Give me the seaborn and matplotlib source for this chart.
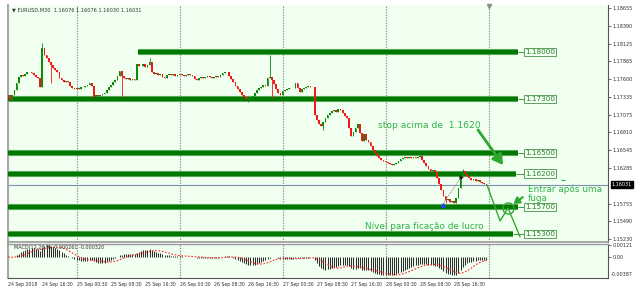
import numpy as np
import pandas as pd
import matplotlib
matplotlib.use("Agg")
import matplotlib.pyplot as plt
import seaborn as sns
from matplotlib.transforms import blended_transform_factory

sns.set_style("white")
plt.rcParams['font.family'] = ['DejaVu Sans']

# ---------------- data ----------------
symbol_header = "\u25BC EURUSD,M30  1.16076 1.16076 1.16030 1.16031"
first_open = 1.17335
closes = [
    1.17365, 1.17291, 1.17365, 1.17439, 1.17543, 1.17632, 1.17662, 1.17647, 1.17677, 1.17706,
    1.17706, 1.17691, 1.17662, 1.17632, 1.17617, 1.17484, 1.18062, 1.17958, 1.17914, 1.17855,
    1.17810, 1.17766, 1.17736, 1.17706, 1.17617, 1.17588, 1.17558, 1.17573, 1.17558, 1.17499,
    1.17469, 1.17454, 1.17469, 1.17454, 1.17484, 1.17484, 1.17499, 1.17514, 1.17543, 1.17499,
    1.17335, 1.17365, 1.17350, 1.17365, 1.17380, 1.17395, 1.17439, 1.17484, 1.17514, 1.17558,
    1.17588, 1.17647, 1.17721, 1.17647, 1.17617, 1.17602, 1.17617, 1.17588, 1.17602, 1.17588,
    1.17825, 1.17795, 1.17795, 1.17825, 1.17780, 1.17810, 1.17855, 1.17706, 1.17677, 1.17691,
    1.17662, 1.17677, 1.17632, 1.17617, 1.17662, 1.17677, 1.17662, 1.17677, 1.17647, 1.17662,
    1.17677, 1.17662, 1.17647, 1.17662, 1.17677, 1.17662, 1.17647, 1.17602, 1.17588, 1.17617,
    1.17632, 1.17617, 1.17632, 1.17647, 1.17632, 1.17617, 1.17632, 1.17647, 1.17632, 1.17662,
    1.17691, 1.17706, 1.17706, 1.17647, 1.17602, 1.17558, 1.17499, 1.17454, 1.17410, 1.17365,
    1.17335, 1.17306, 1.17321, 1.17335, 1.17350, 1.17395, 1.17439, 1.17469, 1.17484, 1.17514,
    1.17499, 1.17617, 1.17632, 1.17588, 1.17528, 1.17454, 1.17395, 1.17365, 1.17424, 1.17439,
    1.17454, 1.17469, 1.17469, 1.17469, 1.17543, 1.17469, 1.17410, 1.17454, 1.17469, 1.17484,
    1.17499, 1.17484, 1.17484, 1.17069, 1.16994, 1.16935, 1.16905, 1.16965, 1.17024, 1.17069,
    1.17098, 1.17128, 1.17143, 1.17113, 1.17158, 1.17143, 1.17098, 1.17054, 1.17024, 1.16876,
    1.16757, 1.16816, 1.16876, 1.16935, 1.16802, 1.16683, 1.16787, 1.16698, 1.16668, 1.16609,
    1.16550, 1.16505, 1.16461, 1.16431, 1.16401, 1.16387, 1.16372, 1.16357, 1.16342, 1.16327,
    1.16342, 1.16357, 1.16387, 1.16416, 1.16431, 1.16446, 1.16431, 1.16446, 1.16431, 1.16446,
    1.16431, 1.16446, 1.16461, 1.16401, 1.16357, 1.16312, 1.16268, 1.16238, 1.16253, 1.16223,
    1.16134, 1.16046, 1.15956, 1.15867, 1.15808, 1.15823, 1.15779, 1.15793, 1.15764, 1.15838,
    1.15986, 1.16164, 1.16238, 1.16194, 1.16164, 1.16134, 1.16105, 1.16120, 1.16090, 1.16105,
    1.16075, 1.16060, 1.16046, 1.16031,
]
spike_high = {16: 1.18136, 66: 1.17914, 122: 1.17958, 212: 1.16268}
spike_low = {20: 1.17543, 53: 1.17335, 112: 1.17261, 123: 1.17321, 147: 1.16846, 204: 1.15764}

levels = [1.18000, 1.17300, 1.16500, 1.16200, 1.15700, 1.15300]
level_labels = ["1.18000", "1.17300", "1.16500", "1.16200", "1.15700", "1.15300"]

price_ticks = [1.18655, 1.18390, 1.18125, 1.17865, 1.17600, 1.17335, 1.17075,
               1.16810, 1.16545, 1.16285, 1.15755, 1.15490, 1.15230]
last_price = 1.16031
time_labels = ["24 Sep 2018", "24 Sep 16:30", "25 Sep 00:30", "25 Sep 08:30",
               "25 Sep 16:30", "26 Sep 00:30", "26 Sep 08:30", "26 Sep 16:30",
               "27 Sep 00:30", "27 Sep 08:30", "27 Sep 16:30", "28 Sep 00:30",
               "28 Sep 08:30", "28 Sep 16:30"]
macd_label = "MACD(12,26,9) -0.000261 -0.000320"
macd_ticks = [0.00121, 0.0]
macd_ticklabels = ["0.00121", "0.00"]
macd_scale_min_label = "-0.00387"

# zig-zag projection drawn by the author (bar index, price)
zig_bars = [223.3, 229.4, 233.1, 238.7]
zig_prices = [1.16031, 1.15497, 1.15690, 1.15260]

# ---------------- derived ----------------
n = len(closes)
bars = np.arange(n)
opens = [first_open] + closes[:-1]
df = pd.DataFrame({"bar": bars, "open": opens, "close": closes})
df["high"] = [spike_high.get(i, max(o, c)) for i, o, c in zip(bars, df.open, df.close)]
df["low"] = [spike_low.get(i, min(o, c)) for i, o, c in zip(bars, df.open, df.close)]
df["bull"] = df.close >= df.open

ema12 = df.close.ewm(span=12, adjust=False).mean()
ema26 = df.close.ewm(span=26, adjust=False).mean()
df["macd"] = ema12 - ema26
df["signal"] = df.macd.rolling(9, min_periods=1).mean()

# ---------------- figure ----------------
W, H = 642, 303
fig = plt.figure(figsize=(W / 100, H / 100), dpi=100, facecolor="white")
BG = "#f0fff0"
L, R = 8 / W, 608 / W
ax = fig.add_axes([L, 1 - 242 / H, R - L, (242 - 5) / H], facecolor=BG)
axm = fig.add_axes([L, 1 - 278 / H, R - L, (278 - 244) / H], facecolor=BG)

XMAX = 279.7
for a in (ax, axm):
    a.set_xlim(0, XMAX)
ax.set_ylim(1.15185, 1.18700)
axm.set_ylim(-0.0022, 0.00135)

# vertical day separators
for a in (ax, axm):
    for xb in [32, 80, 128, 176, 224]:
        a.axvline(xb, color="#8a8a8a", lw=0.8, ls=(0, (1.2, 1.2)), zorder=1)

# current price line
ax.axhline(last_price, color="#7f8fb0", lw=0.8, zorder=2)

# level lines
level_x0 = [60.6, 0, 0, 0, 0, 0]
level_x1 = [237.8, 237.8, 237.8, 236.8, 237.8, 235.5]
box_x = 240.6
for lv, lab, x0, x1 in zip(levels, level_labels, level_x0, level_x1):
    ax.hlines(lv, x0, x1, color="#6fb56f", lw=4.4, zorder=3)
    ax.hlines(lv, x0, x1, color="#007800", lw=3.2, zorder=3)
    ax.hlines(lv, x1, box_x, color="#3a9a3a", lw=0.7, zorder=3)
    ax.text(box_x + 0.6, lv, lab, fontsize=5.2, color="#2f7f2f", va="center", ha="left",
            zorder=6,
            bbox=dict(boxstyle="square,pad=0.15", fc=BG, ec="#5f9f5f", lw=0.7))
ax.hlines(1.16105, 257.8, 259.6, color="#33b24a", lw=0.8, zorder=6)

# candles
col = np.where(df.bull, "#0b8a0b", "#f01818")
ax.vlines(df.bar, df.low, df.high, colors=col, lw=0.6, zorder=4)
body_lo = np.minimum(df.open, df.close)
body_h = np.maximum(np.abs(df.close - df.open), 0.00005)
ax.bar(df.bar, body_h, bottom=body_lo, width=0.8, color=col, lw=0, zorder=4)

# trade history dotted line
ax.plot([202.8, 211.2], [1.15749, 1.16149], color="#808080", lw=0.7, ls=(0, (1, 1)), zorder=5)
ax.plot([202.8], [1.15740], marker="^", color="#2040ff", ms=2.5, zorder=6)
ax.plot([211.2], [1.16149], marker=">", color="#202020", ms=2, zorder=6)

# shift marker
ax.plot([224], [1.18690], marker="v", color="#909090", ms=3, zorder=6, clip_on=False)

# annotations
TXT = "#33b24a"
ax.text(172.5, 1.16920, "stop acima de  1.1620", fontsize=6.6, color=TXT, va="center", ha="left", zorder=7)
ax.annotate("", xy=(230.8, 1.16327), xytext=(219.1, 1.16846),
            arrowprops=dict(arrowstyle="-|>,head_width=0.35,head_length=0.6", color="#2ea82e", lw=2.0,
                            shrinkA=0, shrinkB=0),
            zorder=7)
ax.text(242.4, 1.15900, "Entrar após uma\nfuga", fontsize=6.4, color=TXT, va="center", ha="left",
        linespacing=0.95, zorder=7)
ax.annotate("", xy=(235.6, 1.15750), xytext=(240.0, 1.15850),
            arrowprops=dict(arrowstyle="-|>,head_width=0.22,head_length=0.35", color="#2ea82e", lw=1.5,
                            shrinkA=0, shrinkB=0),
            zorder=7)
ax.text(166.4, 1.15408, "Nível para ficação de lucro", fontsize=6.4, color=TXT, va="center", ha="left", zorder=7)
sns.lineplot(x=zig_bars, y=zig_prices, ax=ax, color="#35a835", lw=1.0, zorder=7)
ax.plot([zig_bars[2]], [zig_prices[2]], marker="o", ms=8, mfc="none", mec="#35a835", mew=1.0, zorder=7)

# header
ax.text(2, 1.18630, symbol_header, fontsize=3.6, color="#333333", va="center", ha="left", zorder=7)

# price axis
ax.yaxis.tick_right()
ax.set_yticks(price_ticks)
ax.set_yticklabels([f"{p:.5f}" for p in price_ticks])
ax.tick_params(axis="y", labelsize=3.5, length=2, width=0.5, pad=1.5, colors="#303030")
ax.set_xticks([])
trans = blended_transform_factory(ax.transAxes, ax.transData)
ax.text(1.006, last_price, f"{last_price:.5f}", transform=trans, fontsize=3.5, color="white",
        va="center", ha="left", zorder=8,
        bbox=dict(boxstyle="square,pad=0.2", fc="black", ec="black"))

# MACD panel
axm.vlines(df.bar, 0, df.macd, colors="#2e2e2e", lw=0.75, zorder=3)
sns.lineplot(x=df.bar, y=df.signal, ax=axm, color="#ff2a2a", lw=0.8, ls=(0, (1.5, 1.5)), zorder=4)
axm.set_xlabel("")
axm.set_ylabel("")
axm.yaxis.tick_right()
axm.set_yticks(macd_ticks)
axm.set_yticklabels(macd_ticklabels)
axm.tick_params(axis="y", labelsize=3.5, length=2, width=0.5, pad=1.5, colors="#303030")
axm.text(1.004, 0.1, macd_scale_min_label, transform=axm.transAxes, fontsize=3.5,
         color="#303030", va="center", ha="left")
axm.set_xticks([16 * k for k in range(len(time_labels))])
axm.set_xticklabels(time_labels)
for t in axm.get_xticklabels():
    t.set_horizontalalignment("left")
axm.tick_params(axis="x", labelsize=3.3, length=2, width=0.5, pad=1.0, colors="#303030")
axm.text(3, 0.00100, macd_label, fontsize=3.5, color="#333333", va="center", ha="left", zorder=6)

# spines
for a in (ax, axm):
    a.spines["left"].set_color("#a8a8a8")
    a.spines["left"].set_linewidth(1.5)
    a.spines["right"].set_color("#555555")
    a.spines["right"].set_linewidth(0.8)
ax.spines["top"].set_visible(False)
ax.spines["bottom"].set_color("#9a9a9a")
ax.spines["bottom"].set_linewidth(1.2)
axm.spines["top"].set_color("#9a9a9a")
axm.spines["top"].set_linewidth(1.0)
axm.spines["bottom"].set_color("#555555")
axm.spines["bottom"].set_linewidth(0.8)

fig.savefig("out.png", dpi=100, facecolor="white")
